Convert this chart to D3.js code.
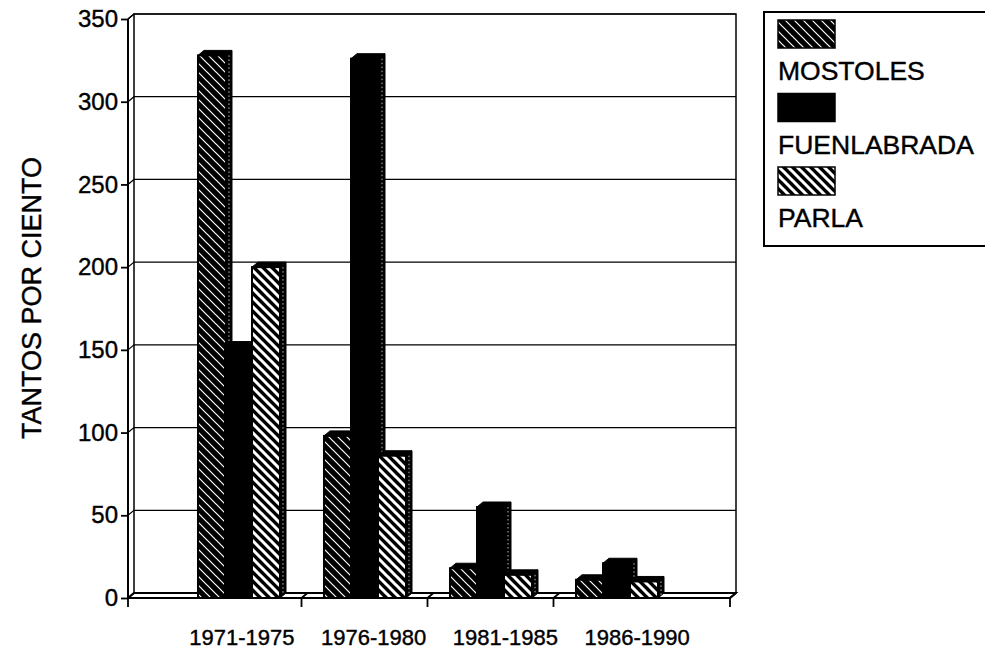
<!DOCTYPE html>
<html>
<head>
<meta charset="utf-8">
<script src="https://cdn.jsdelivr.net/npm/d3@7"></script>
<style>
  body { margin: 0; background: #fff; }
  text { font-family: "Liberation Sans", Arial, sans-serif; fill: #000; stroke: #000; stroke-width: 0.4px; }
</style>
</head>
<body>
<svg id="chart"></svg>
<script>
const periods = ["1971-1975", "1976-1980", "1981-1985", "1986-1990"];
const series = ["MOSTOLES", "FUENLABRADA", "PARLA"];
const mostoles = [328, 98, 18, 11];
const fuenlabrada = [152, 326, 55, 21];
const parla = [200, 86, 14, 10];
const yTicks = [0, 50, 100, 150, 200, 250, 300, 350];

const width = 985;
const height = 651;
const left = 128;
const right = 730;
const dx = 6;
const dy = 5;

let svg = d3.select("#chart")
    .attr("width", width)
    .attr("height", height);

let values = {"MOSTOLES": mostoles, "FUENLABRADA": fuenlabrada, "PARLA": parla};
let fills = {"MOSTOLES": "url(#thin)", "FUENLABRADA": "#000", "PARLA": "url(#thick)"};

// hatch patterns
let defs = svg.append("defs");
function hatch(id, w) {
    let p = defs.append("pattern")
        .attr("id", id)
        .attr("patternUnits", "userSpaceOnUse")
        .attr("width", 9)
        .attr("height", 9);
    p.append("rect").attr("width", 9).attr("height", 9).attr("fill", "#000");
    p.append("path")
        .attr("d", "M0,0L9,9M-2,7L2,11M7,-2L11,2")
        .attr("stroke", "#fff")
        .attr("stroke-width", w);
}
hatch("thin", 1.2);
hatch("thick", 3);

let y = d3.scaleLinear().domain([0, 350]).range([598, 19]);

let x = d3.scaleBand()
    .domain(periods)
    .range([175.5, 679.5])
    .paddingInner(0.357)
    .paddingOuter(0.1785);

let xSub = d3.scaleBand().domain(series).range([0, x.bandwidth()]);

let xLabel = d3.scaleBand().domain(periods).range([176, 703]);

// back wall
svg.append("rect")
    .attr("x", left + dx)
    .attr("y", y(350) - dy)
    .attr("width", right - left)
    .attr("height", y(0) - y(350))
    .attr("fill", "none")
    .attr("stroke", "#000")
    .attr("stroke-width", 1.5);

// gridlines
yTicks.filter(d => d > 0).forEach(t => {
    svg.append("path")
        .attr("d", `M${left},${y(t)}L${left + dx},${y(t) - dy}L${right + dx},${y(t) - dy}`)
        .attr("fill", "none")
        .attr("stroke", "#000")
        .attr("stroke-width", 1.2);
});

// floor
svg.append("path")
    .attr("d", `M${left},${y(0)}L${right},${y(0)}L${right + dx},${y(0) - dy}L${left + dx},${y(0) - dy}Z`)
    .attr("fill", "#fff")
    .attr("stroke", "#000")
    .attr("stroke-width", 1.8);

// x ticks at group boundaries
let bounds = [left];
periods.slice(1).forEach(p => bounds.push(x(p) - (x.step() - x.bandwidth()) / 2));
bounds.push(right);
bounds.forEach(b => {
    svg.append("path")
        .attr("d", `M${b},${y(0) + 9}L${b},${y(0)}L${b + dx},${y(0) - dy}`)
        .attr("fill", "none")
        .attr("stroke", "#000")
        .attr("stroke-width", 1.8);
});

// bars
periods.forEach((p, i) => {
    series.forEach(s => {
        let v = values[s][i];
        let x0 = x(p) + xSub(s);
        let w = xSub.bandwidth() + 1;
        let yt = y(v);
        let yb = y(0);
        let g = svg.append("g");
        g.append("path")
            .attr("d", `M${x0 + w},${yt}L${x0 + w + dx},${yt - dy}L${x0 + w + dx},${yb - dy}L${x0 + w},${yb}Z`)
            .attr("fill", "#000").attr("stroke", "#000");
        g.append("path")
            .attr("d", `M${x0 + w + dx / 2},${yt}L${x0 + w + dx / 2},${yb - 3}`)
            .attr("stroke", "#bbb").attr("stroke-width", 1).attr("stroke-dasharray", "1.5,2.5");
        g.append("path")
            .attr("d", `M${x0},${yt}L${x0 + dx},${yt - dy}L${x0 + w + dx},${yt - dy}L${x0 + w},${yt}Z`)
            .attr("fill", "#000").attr("stroke", "#000");
        g.append("rect")
            .attr("x", x0)
            .attr("y", yt)
            .attr("width", w)
            .attr("height", yb - yt)
            .attr("fill", fills[s])
            .attr("stroke", "#000")
            .attr("stroke-width", 2);
    });
});

// y axis
let axisY = d3.axisLeft(y).tickValues(yTicks).tickSize(7).tickPadding(3);
let gy = svg.append("g")
    .attr("transform", `translate(${left},0)`)
    .call(axisY);
gy.select(".domain").attr("stroke-width", 2).attr("d", `M-0,${y(0)}V${y(350)}`);
gy.selectAll(".tick line").attr("stroke-width", 1.8);
gy.selectAll(".tick text")
    .style("font-size", "24px")
    .style("font-family", "Liberation Sans, Arial, sans-serif");
svg.append("path")
    .attr("d", `M${left},${y(350)}L${left + dx},${y(350) - dy}`)
    .attr("stroke", "#000").attr("stroke-width", 1.5);

// x labels
let gx = svg.append("g")
    .attr("transform", `translate(0,${y(0) + 28})`)
    .call(d3.axisBottom(xLabel).tickSize(0));
gx.select(".domain").remove();
gx.selectAll("text")
    .style("font-size", "22px")
    .style("font-family", "Liberation Sans, Arial, sans-serif");

// y title
svg.append("text")
    .attr("transform", "translate(41,298) rotate(-90)")
    .attr("text-anchor", "middle")
    .style("font-size", "27px")
    .text("TANTOS POR CIENTO");

// legend
let legend = svg.append("g");
legend.append("rect")
    .attr("x", 764).attr("y", 12)
    .attr("width", 240).attr("height", 234)
    .attr("fill", "none").attr("stroke", "#000").attr("stroke-width", 2);
series.forEach((s, i) => {
    legend.append("rect")
        .attr("x", 778).attr("y", 20 + i * 73.5)
        .attr("width", 57).attr("height", 28)
        .attr("fill", fills[s]).attr("stroke", "#000").attr("stroke-width", 1.5);
    legend.append("text")
        .attr("x", 778).attr("y", 80 + i * 73.5)
        .style("font-size", "26.5px")
        .text(s);
});
</script>
</body>
</html>
